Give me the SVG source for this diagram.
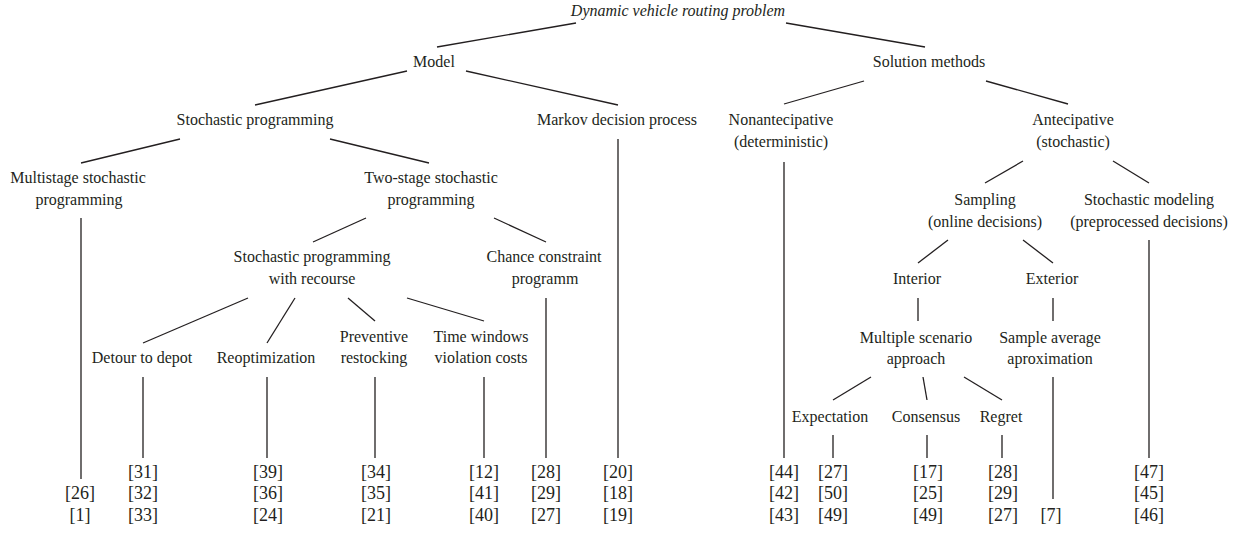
<svg xmlns="http://www.w3.org/2000/svg" width="1239" height="533" viewBox="0 0 1239 533">
<style>
text{font-family:"Liberation Serif","Times New Roman",serif;font-size:16px;fill:#231f20;text-anchor:middle}
.it{font-style:italic}
#refs text{font-size:18px}
#connectors line{stroke:#231f20;stroke-width:1.3;fill:none}
</style>
<rect width="1239" height="533" fill="#fff"/>
<g id="connectors">
<line x1="576" y1="23" x2="437" y2="47"/>
<line x1="786" y1="23" x2="925" y2="47"/>
<line x1="407" y1="71" x2="255" y2="105"/>
<line x1="466" y1="71" x2="618" y2="105"/>
<line x1="864" y1="81" x2="784" y2="104"/>
<line x1="986" y1="81" x2="1068" y2="104"/>
<line x1="180" y1="139" x2="81" y2="163"/>
<line x1="330" y1="139" x2="429" y2="163"/>
<line x1="81" y1="218" x2="81" y2="479"/>
<line x1="618" y1="139" x2="618" y2="458"/>
<line x1="784" y1="162" x2="784" y2="458"/>
<line x1="1023" y1="161" x2="985" y2="183"/>
<line x1="1113" y1="161" x2="1149" y2="183"/>
<line x1="366" y1="218" x2="313" y2="242"/>
<line x1="494" y1="218" x2="546" y2="242"/>
<line x1="948" y1="240" x2="918" y2="263"/>
<line x1="1023" y1="240" x2="1053" y2="263"/>
<line x1="1149" y1="240" x2="1149" y2="458"/>
<line x1="248" y1="298" x2="143" y2="343"/>
<line x1="295" y1="298" x2="267" y2="343"/>
<line x1="348" y1="298" x2="375" y2="321"/>
<line x1="407" y1="298" x2="484" y2="321"/>
<line x1="546" y1="298" x2="546" y2="458"/>
<line x1="918" y1="298" x2="918" y2="321"/>
<line x1="1053" y1="298" x2="1053" y2="321"/>
<line x1="143" y1="377" x2="143" y2="458"/>
<line x1="267" y1="377" x2="267" y2="458"/>
<line x1="375" y1="377" x2="375" y2="458"/>
<line x1="484" y1="377" x2="484" y2="458"/>
<line x1="871" y1="377" x2="833" y2="400"/>
<line x1="923" y1="377" x2="927" y2="400"/>
<line x1="964" y1="377" x2="1002" y2="400"/>
<line x1="1053" y1="377" x2="1053" y2="499"/>
<line x1="833" y1="435" x2="833" y2="458"/>
<line x1="927" y1="435" x2="927" y2="458"/>
<line x1="1002" y1="435" x2="1002" y2="458"/>
</g>
<g id="root"><text class="it" x="678" y="16">Dynamic vehicle routing problem</text></g>
<g id="model"><text x="434" y="67">Model</text></g>
<g id="solution"><text x="929" y="67">Solution methods</text></g>
<g id="stochprog"><text x="255" y="125">Stochastic programming</text></g>
<g id="markov"><text x="617" y="125">Markov decision process</text></g>
<g id="nonant"><text x="781" y="125">Nonantecipative</text><text x="781" y="147">(deterministic)</text></g>
<g id="antecip"><text x="1073" y="125">Antecipative</text><text x="1073" y="147">(stochastic)</text></g>
<g id="multistage"><text x="78" y="183">Multistage stochastic</text><text x="79" y="205">programming</text></g>
<g id="twostage"><text x="431" y="183">Two-stage stochastic</text><text x="431" y="205">programming</text></g>
<g id="sampling"><text x="985" y="205">Sampling</text><text x="985" y="227">(online decisions)</text></g>
<g id="stochmod"><text x="1149" y="205">Stochastic modeling</text><text x="1149" y="227">(preprocessed decisions)</text></g>
<g id="recourse"><text x="312" y="262">Stochastic programming</text><text x="312" y="284">with recourse</text></g>
<g id="chance"><text x="544" y="262">Chance constraint</text><text x="545" y="284">programm</text></g>
<g id="interior"><text x="917" y="284">Interior</text></g>
<g id="exterior"><text x="1052" y="284">Exterior</text></g>
<g id="detour"><text x="142" y="363">Detour to depot</text></g>
<g id="reopt"><text x="266" y="363">Reoptimization</text></g>
<g id="preventive"><text x="374" y="342">Preventive</text><text x="374" y="363">restocking</text></g>
<g id="timewin"><text x="481" y="342">Time windows</text><text x="481" y="363">violation costs</text></g>
<g id="multiple"><text x="916" y="343">Multiple scenario</text><text x="916" y="364">approach</text></g>
<g id="saa"><text x="1050" y="343">Sample average</text><text x="1050" y="364">aproximation</text></g>
<g id="expectation"><text x="830" y="422">Expectation</text></g>
<g id="consensus"><text x="926" y="422">Consensus</text></g>
<g id="regret"><text x="1001" y="422">Regret</text></g>
<g id="refs">
<text x="80" y="499">[26]</text><text x="80" y="520.5">[1]</text>
<text x="143" y="477.5">[31]</text><text x="143" y="499">[32]</text><text x="143" y="520.5">[33]</text>
<text x="268" y="477.5">[39]</text><text x="268" y="499">[36]</text><text x="268" y="520.5">[24]</text>
<text x="376" y="477.5">[34]</text><text x="376" y="499">[35]</text><text x="376" y="520.5">[21]</text>
<text x="484" y="477.5">[12]</text><text x="484" y="499">[41]</text><text x="484" y="520.5">[40]</text>
<text x="546" y="477.5">[28]</text><text x="546" y="499">[29]</text><text x="546" y="520.5">[27]</text>
<text x="618" y="477.5">[20]</text><text x="618" y="499">[18]</text><text x="618" y="520.5">[19]</text>
<text x="784" y="477.5">[44]</text><text x="784" y="499">[42]</text><text x="784" y="520.5">[43]</text>
<text x="833" y="477.5">[27]</text><text x="833" y="499">[50]</text><text x="833" y="520.5">[49]</text>
<text x="928" y="477.5">[17]</text><text x="928" y="499">[25]</text><text x="928" y="520.5">[49]</text>
<text x="1003" y="477.5">[28]</text><text x="1003" y="499">[29]</text><text x="1003" y="520.5">[27]</text>
<text x="1051" y="520.5">[7]</text>
<text x="1149" y="477.5">[47]</text><text x="1149" y="499">[45]</text><text x="1149" y="520.5">[46]</text>
</g>
</svg>
